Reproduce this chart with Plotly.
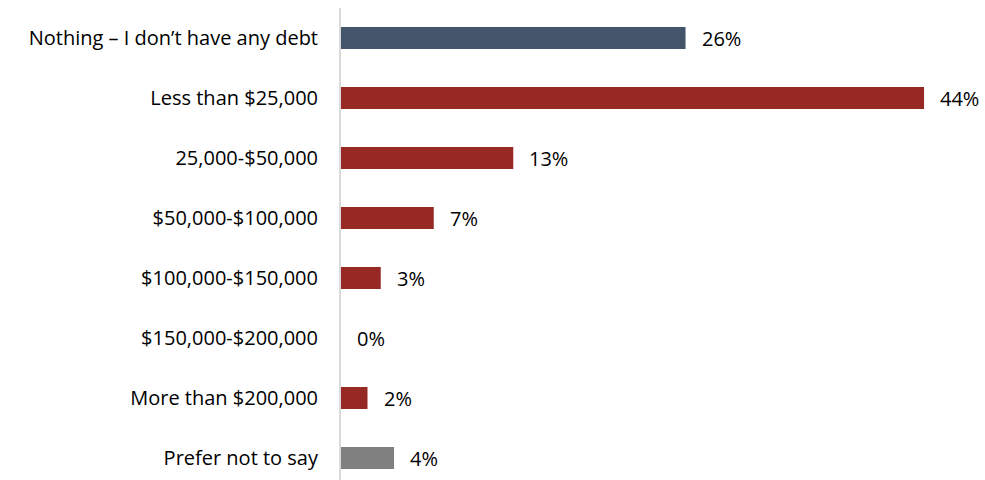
import plotly.graph_objects as go

categories = [
    "Nothing – I don’t have any debt",
    "Less than $25,000",
    "25,000-$50,000",
    "$50,000-$100,000",
    "$100,000-$150,000",
    "$150,000-$200,000",
    "More than $200,000",
    "Prefer not to say",
]
values = [26, 44, 13, 7, 3, 0, 2, 4]
labels = ["26%", "44%", "13%", "7%", "3%", "0%", "2%", "4%"]

BLUE = "#44546A"
RED = "#962923"
GREY = "#808080"
bar_colors = [BLUE] + [RED] * 6 + [GREY]

FONT = "Open Sans, Calibri, sans-serif"
FSIZE = 20

fig = go.Figure(
    go.Bar(
        x=values,
        y=categories,
        orientation="h",
        marker=dict(color=bar_colors, line=dict(width=0)),
        width=0.367,
        hoverinfo="skip",
    )
)

for cat, v, lab in zip(categories, values, labels):
    fig.add_annotation(
        x=v, y=cat, text=lab, showarrow=False,
        xanchor="left", yanchor="middle", xshift=14,
        font=dict(family=FONT, size=FSIZE, color="#000000"),
    )

fig.update_layout(
    width=985, height=480,
    margin=dict(l=341, r=0, t=8, b=0),
    paper_bgcolor="white", plot_bgcolor="white",
    showlegend=False,
    font=dict(family=FONT, size=FSIZE, color="#000000"),
    xaxis=dict(range=[0, 48.6], visible=False, fixedrange=True),
    yaxis=dict(
        type="category",
        categoryorder="array", categoryarray=categories,
        range=[7.3667, -0.5],
        showline=True, linecolor="#D9D9D9", linewidth=2,
        showgrid=False, zeroline=False, ticks="",
        ticklabelstandoff=17,
        tickfont=dict(family=FONT, size=FSIZE, color="#000000"),
        fixedrange=True,
    ),
)

fig.write_html("out.html")
